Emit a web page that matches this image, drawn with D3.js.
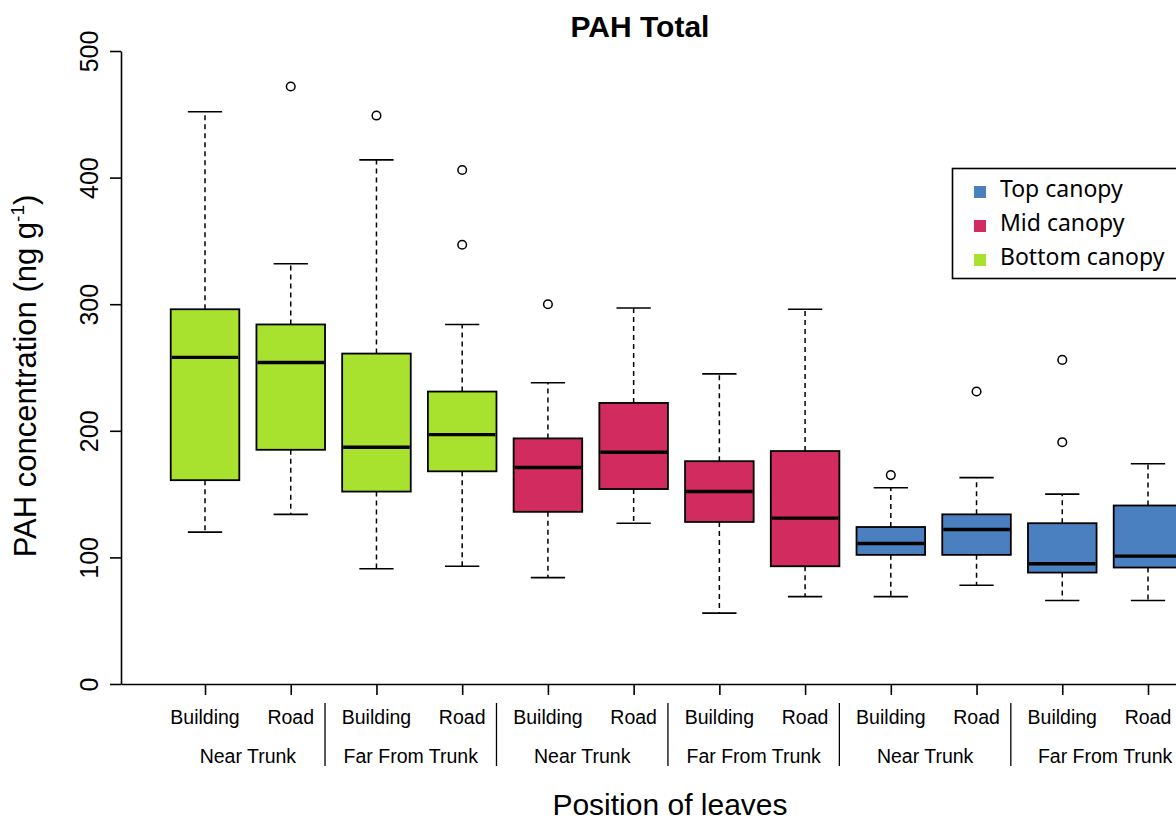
<!DOCTYPE html>
<html>
<head>
<meta charset="utf-8">
<script src="https://cdn.jsdelivr.net/npm/d3@7"></script>
<style>
  html, body { margin: 0; padding: 0; background: #fff; }
  svg { display: block; }
  .sans { font-family: "Liberation Sans", Arial, Helvetica, sans-serif; }
</style>
</head>
<body>
<svg id="chart" width="1176" height="821"></svg>
<script>
// Leaf position along each box (inner axis labels)
const positions = ["Building", "Road", "Building", "Road", "Building", "Road",
                   "Building", "Road", "Building", "Road", "Building", "Road"];
// Distance-from-trunk group labels and their centres on the box index scale
const groups = ["Near Trunk", "Far From Trunk", "Near Trunk", "Far From Trunk", "Near Trunk", "Far From Trunk"];
const groupCenters = [1.5, 3.4, 5.4, 7.4, 9.4, 11.5];
const separators = [2.4, 4.4, 6.4, 8.4, 10.4];

// Canopy layer of each box
const canopy = ["Bottom", "Bottom", "Bottom", "Bottom", "Mid", "Mid",
                "Mid", "Mid", "Top", "Top", "Top", "Top"];

// Five-number summaries (ng g-1)
const whiskerLow  = [120, 134,  91,  93,  84, 127,  56,  69,  69,  78,  66,  66];
const q1          = [161, 185, 152, 168, 136, 154, 128,  93, 102, 102,  88,  92];
const median      = [258, 254, 187, 197, 171, 183, 152, 131, 111, 122,  95, 101];
const q3          = [296, 284, 261, 231, 194, 222, 176, 184, 124, 134, 127, 141];
const whiskerHigh = [452, 332, 414, 284, 238, 297, 245, 296, 155, 163, 150, 174];
const outliers    = [[], [472], [449], [406, 347], [300], [], [], [], [165], [231], [256, 191], []];

const yTicks = [0, 100, 200, 300, 400, 500];

const legendLabels = ["Top canopy", "Mid canopy", "Bottom canopy"];
const legendKeys = ["Top", "Mid", "Bottom"];
const canopyColor = { Top: "#4a80bf", Mid: "#d22b5f", Bottom: "#a8e22f" };

const svg = d3.select("#chart");

const x = d3.scaleLinear().domain([0.02, 12.98]).range([121, 1232]);
const y = d3.scaleLinear().domain([0, 500]).range([684, 51]);
const unit = x(2) - x(1);
const boxW = 0.8 * unit;
const capW = 0.4 * unit;

// Y axis
const yAxis = svg.append("g")
  .attr("transform", `translate(${x(0.02)},0)`)
  .call(d3.axisLeft(y).tickValues(yTicks).tickSize(11).tickSizeOuter(0).tickPadding(0));
yAxis.select(".domain").attr("stroke", "#000").attr("stroke-width", 1.6);
yAxis.selectAll(".tick line").attr("stroke", "#000").attr("stroke-width", 1.6);
yAxis.selectAll(".tick text")
  .attr("class", "sans")
  .attr("font-size", 25)
  .attr("fill", "#000")
  .attr("x", 0).attr("y", 0)
  .attr("dy", 0)
  .attr("text-anchor", "middle")
  .attr("transform", "translate(-23,0) rotate(-90)");

// Bottom axis line and ticks
const xAxis = svg.append("g")
  .attr("transform", `translate(0,${y(0)})`)
  .call(d3.axisBottom(x).tickValues(d3.range(1, 13)).tickSize(11).tickSizeOuter(0).tickFormat(""));
xAxis.select(".domain").attr("stroke", "#000").attr("stroke-width", 1.6);
xAxis.selectAll(".tick line").attr("stroke", "#000").attr("stroke-width", 1.6);

// Inner position labels
svg.append("g").selectAll("text")
  .data(positions)
  .join("text")
  .attr("class", "sans")
  .attr("x", (d, i) => x(i + 1))
  .attr("y", 724)
  .attr("text-anchor", "middle")
  .attr("font-size", 19.5)
  .text(d => d);

// Group labels and separators
svg.append("g").selectAll("text")
  .data(groups)
  .join("text")
  .attr("class", "sans")
  .attr("x", (d, i) => x(groupCenters[i]))
  .attr("y", 763)
  .attr("text-anchor", "middle")
  .attr("font-size", 19.5)
  .text(d => d);

svg.append("g").selectAll("line")
  .data(separators)
  .join("line")
  .attr("x1", d => x(d)).attr("x2", d => x(d))
  .attr("y1", 703).attr("y2", 766)
  .attr("stroke", "#000").attr("stroke-width", 1.3);

// Boxes
const boxes = svg.append("g").selectAll("g")
  .data(d3.range(12))
  .join("g");

const dash = "5,4";
// whiskers
boxes.append("line")
  .attr("x1", i => x(i + 1)).attr("x2", i => x(i + 1))
  .attr("y1", i => y(q3[i])).attr("y2", i => y(whiskerHigh[i]))
  .attr("stroke", "#000").attr("stroke-width", 1.5).attr("stroke-dasharray", dash);
boxes.append("line")
  .attr("x1", i => x(i + 1)).attr("x2", i => x(i + 1))
  .attr("y1", i => y(q1[i])).attr("y2", i => y(whiskerLow[i]))
  .attr("stroke", "#000").attr("stroke-width", 1.5).attr("stroke-dasharray", dash);
// caps
boxes.append("line")
  .attr("x1", i => x(i + 1) - capW / 2).attr("x2", i => x(i + 1) + capW / 2)
  .attr("y1", i => y(whiskerHigh[i])).attr("y2", i => y(whiskerHigh[i]))
  .attr("stroke", "#000").attr("stroke-width", 1.6);
boxes.append("line")
  .attr("x1", i => x(i + 1) - capW / 2).attr("x2", i => x(i + 1) + capW / 2)
  .attr("y1", i => y(whiskerLow[i])).attr("y2", i => y(whiskerLow[i]))
  .attr("stroke", "#000").attr("stroke-width", 1.6);
// box body
boxes.append("rect")
  .attr("x", i => x(i + 1) - boxW / 2)
  .attr("width", boxW)
  .attr("y", i => y(q3[i]))
  .attr("height", i => y(q1[i]) - y(q3[i]))
  .attr("fill", i => canopyColor[canopy[i]])
  .attr("stroke", "#000").attr("stroke-width", 1.8);
// median
boxes.append("line")
  .attr("x1", i => x(i + 1) - boxW / 2 + 1).attr("x2", i => x(i + 1) + boxW / 2 - 1)
  .attr("y1", i => y(median[i])).attr("y2", i => y(median[i]))
  .attr("stroke", "#000").attr("stroke-width", 3.4);
// outliers
boxes.selectAll("circle")
  .data(i => outliers[i].map(v => ({ i, v })))
  .join("circle")
  .attr("cx", d => x(d.i + 1))
  .attr("cy", d => y(d.v))
  .attr("r", 4.3)
  .attr("fill", "none")
  .attr("stroke", "#000").attr("stroke-width", 1.5);

// Title
svg.append("text")
  .attr("class", "sans")
  .attr("x", 640).attr("y", 37)
  .attr("text-anchor", "middle")
  .attr("font-size", 30)
  .attr("font-weight", "bold")
  .text("PAH Total");

// Axis titles
svg.append("text")
  .attr("class", "sans")
  .attr("x", 670).attr("y", 815)
  .attr("text-anchor", "middle")
  .attr("font-size", 30)
  .text("Position of leaves");

const yTitle = svg.append("text")
  .attr("class", "sans")
  .attr("transform", "translate(36,376) rotate(-90)")
  .attr("text-anchor", "middle")
  .attr("font-size", 31);
yTitle.append("tspan").text("PAH concentration (ng g");
yTitle.append("tspan").attr("font-size", 19).attr("dy", -12).text("-1");
yTitle.append("tspan").attr("dy", 12).text(")");

// Legend
const legend = svg.append("g");
legend.append("rect")
  .attr("x", 952.5).attr("y", 168.5)
  .attr("width", 260).attr("height", 110)
  .attr("fill", "#fff").attr("stroke", "#000").attr("stroke-width", 1.6);
const rows = legend.selectAll("g.row")
  .data(legendLabels)
  .join("g")
  .attr("class", "row")
  .attr("transform", (d, i) => `translate(0,${i * 34})`);
rows.append("rect")
  .attr("x", 974).attr("y", 186)
  .attr("width", 12).attr("height", 12)
  .attr("fill", (d, i) => canopyColor[legendKeys[i]]);
rows.append("text")
  .attr("x", 1000).attr("y", 197)
  .attr("font-family", "'Noto Sans', 'Open Sans', sans-serif")
  .attr("font-size", 23)
  .text(d => d);
</script>
</body>
</html>
